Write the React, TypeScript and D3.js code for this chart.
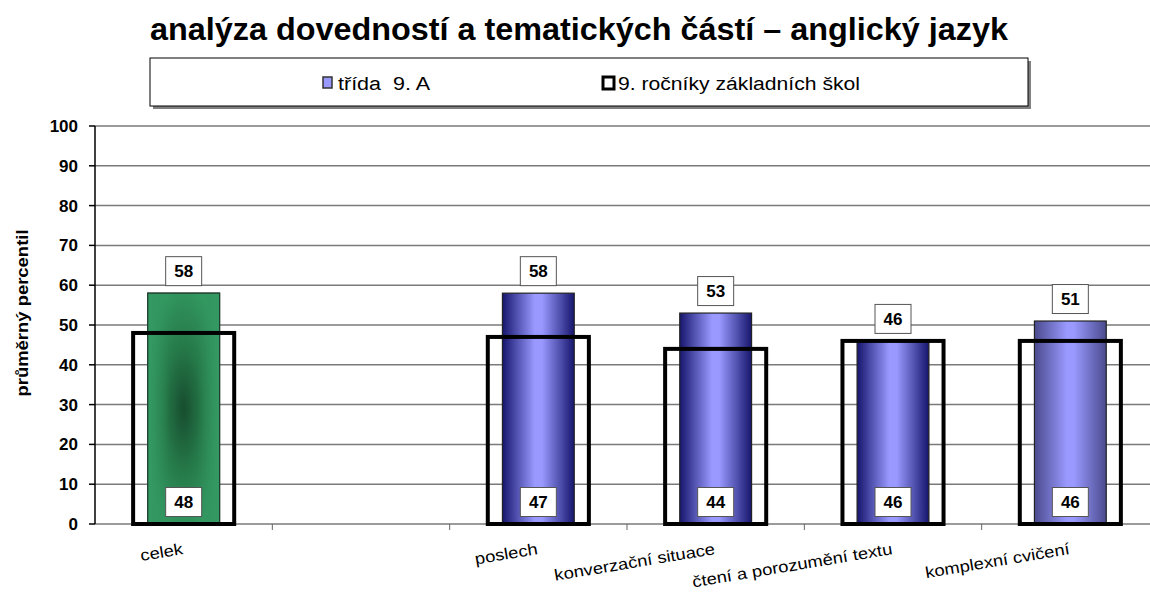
import React from "react";
import * as d3 from "d3";

const categories = ["celek", "", "poslech", "konverzační situace", "čtení a porozumění textu", "komplexní cvičení"];
const trida = [58, null, 58, 53, 46, 51];
const rocniky = [48, null, 47, 44, 46, 46];
const yTicks = [0, 10, 20, 30, 40, 50, 60, 70, 80, 90, 100];

const W = 1150;
const H = 595;
const M = { left: 95, right: 1159, top: 126, bottom: 524 };
const FONT = "'Liberation Sans', Arial, sans-serif";

export default function App() {
  const keys = categories.map((c, i) => `k${i}`);
  const x = d3.scaleBand().domain(keys).range([M.left, M.right]).padding(0);
  const y = d3.scaleLinear().domain([0, 100]).range([M.bottom, M.top]);
  const bw = x.bandwidth();
  const innerW = bw * 0.405;
  const outerW = bw * 0.57;

  return (
    <svg width={W} height={H} style={{ position: "absolute", left: 0, top: 0, background: "#fff" }} fontFamily={FONT}>
      <defs>
        <radialGradient id="green" cx="0.5" cy="0.5" r="0.55">
          <stop offset="0" stopColor="#174d2e" />
          <stop offset="0.5" stopColor="#267a4a" />
          <stop offset="1" stopColor="#339961" />
        </radialGradient>
        <linearGradient id="green2" x1="0" x2="1" y1="0" y2="0">
          <stop offset="0" stopColor="#349a64" />
          <stop offset="0.3" stopColor="#2f8d5a" stopOpacity="0" />
          <stop offset="0.7" stopColor="#2f8d5a" stopOpacity="0" />
          <stop offset="1" stopColor="#349a64" />
        </linearGradient>
        <linearGradient id="blue" x1="0" x2="1" y1="0" y2="0">
          <stop offset="0" stopColor="#16166e" />
          <stop offset="0.45" stopColor="#9999ff" />
          <stop offset="0.55" stopColor="#9999ff" />
          <stop offset="1" stopColor="#16166e" />
        </linearGradient>
        <linearGradient id="blue2" x1="0" x2="1" y1="0" y2="0">
          <stop offset="0" stopColor="#4a4a8e" />
          <stop offset="0.45" stopColor="#9999ff" />
          <stop offset="0.55" stopColor="#9999ff" />
          <stop offset="1" stopColor="#4a4a8e" />
        </linearGradient>
      </defs>

      <text x={150} y={40} fontSize={31} fontWeight="bold" fill="#000" textLength={858} lengthAdjust="spacingAndGlyphs">
        analýza dovedností a tematických částí – anglický jazyk
      </text>

      {/* legend */}
      <rect x={153} y={61} width={878} height={48} fill="#808080" />
      <rect x={150} y={58} width={878} height={48} fill="#fff" stroke="#000" strokeWidth={1} />
      <rect x={323} y={77} width={9} height={11} fill="#9999ff" stroke="#333" strokeWidth={1.5} />
      <text x={338} y={90} fontSize={18} fill="#000" textLength={92} lengthAdjust="spacingAndGlyphs">{"třída\u00a0 9. A"}</text>
      <rect x={603} y={77} width={11} height={12} fill="#fff" stroke="#000" strokeWidth={3} />
      <text x={618} y={90} fontSize={18} fill="#000" textLength={242} lengthAdjust="spacingAndGlyphs">9. ročníky základních škol</text>

      {/* grid */}
      {yTicks.map((t) => (
        <g key={t}>
          {t > 0 && <line x1={M.left} x2={W} y1={y(t)} y2={y(t)} stroke="#7a7a7a" strokeWidth={1.5} />}
          <line x1={89} x2={M.left} y1={y(t)} y2={y(t)} stroke="#000" strokeWidth={1.5} />
          <text x={78} y={y(t) + 6} textAnchor="end" fontSize={17} fontWeight="bold" fill="#000">{t}</text>
        </g>
      ))}
      <line x1={M.left} x2={W} y1={M.bottom} y2={M.bottom} stroke="#7a7a7a" strokeWidth={1.5} />
      {keys.slice(1).map((k) => (
        <line key={k} x1={x(k)} x2={x(k)} y1={M.bottom} y2={M.bottom + 6} stroke="#666" strokeWidth={1} />
      ))}
      <line x1={M.left} x2={M.left} y1={M.top} y2={M.bottom} stroke="#000" strokeWidth={1.5} />

      <text transform={`translate(28,${313}) rotate(-90)`} textAnchor="middle" fontSize={16} fontWeight="bold" fill="#000" textLength={167} lengthAdjust="spacingAndGlyphs">
        průměrný percentil
      </text>

      {/* bars */}
      {keys.map((k, i) => {
        const v = trida[i];
        if (v == null) return null;
        const cx = x(k)! + bw / 2;
        return (
          <g key={k}>
            <rect x={cx - innerW / 2} y={y(v)} width={innerW} height={M.bottom - y(v)} fill={i === 0 ? "#2f8d58" : i === 5 ? "url(#blue2)" : "url(#blue)"} stroke="#222" strokeWidth={1.2} />
            {i === 0 && (
              <>
                <rect x={cx - innerW / 2} y={y(v)} width={innerW} height={M.bottom - y(v)} fill="url(#green)" />
                <rect x={cx - innerW / 2} y={y(v)} width={innerW} height={M.bottom - y(v)} fill="url(#green2)" stroke="#1f3f2c" strokeWidth={1.2} />
              </>
            )}
          </g>
        );
      })}
      {keys.map((k, i) => {
        const v = rocniky[i];
        if (v == null) return null;
        const cx = x(k)! + bw / 2;
        return (
          <rect key={k} x={cx - outerW / 2} y={y(v)} width={outerW} height={M.bottom - y(v)} fill="none" stroke="#000" strokeWidth={4} />
        );
      })}

      {/* data labels */}
      {keys.map((k, i) => {
        const cx = x(k)! + bw / 2;
        const top = trida[i];
        const bot = rocniky[i];
        return (
          <g key={k} fontSize={17} fontWeight="bold">
            {top != null && (
              <g transform={`translate(${cx},${y(top) - 22})`}>
                <rect x={-18} y={-14.5} width={36} height={29} fill="#fff" stroke="#555" strokeWidth={1} />
                <text x={0} y={6} textAnchor="middle" fill="#000">{top}</text>
              </g>
            )}
            {bot != null && (
              <g transform={`translate(${cx},${M.bottom - 22})`}>
                <rect x={-18} y={-14.5} width={36} height={29} fill="#fff" stroke="#555" strokeWidth={1} />
                <text x={0} y={6} textAnchor="middle" fill="#000">{bot}</text>
              </g>
            )}
          </g>
        );
      })}

      {/* x labels */}
      {keys.map((k, i) =>
        categories[i] ? (
          <text key={k} transform={`translate(${x(k)! + bw / 2},${M.bottom + 30}) rotate(-9.5) scale(1.15,1)`} textAnchor="end" fontSize={16} fill="#000">
            {categories[i]}
          </text>
        ) : null
      )}
    </svg>
  );
}
